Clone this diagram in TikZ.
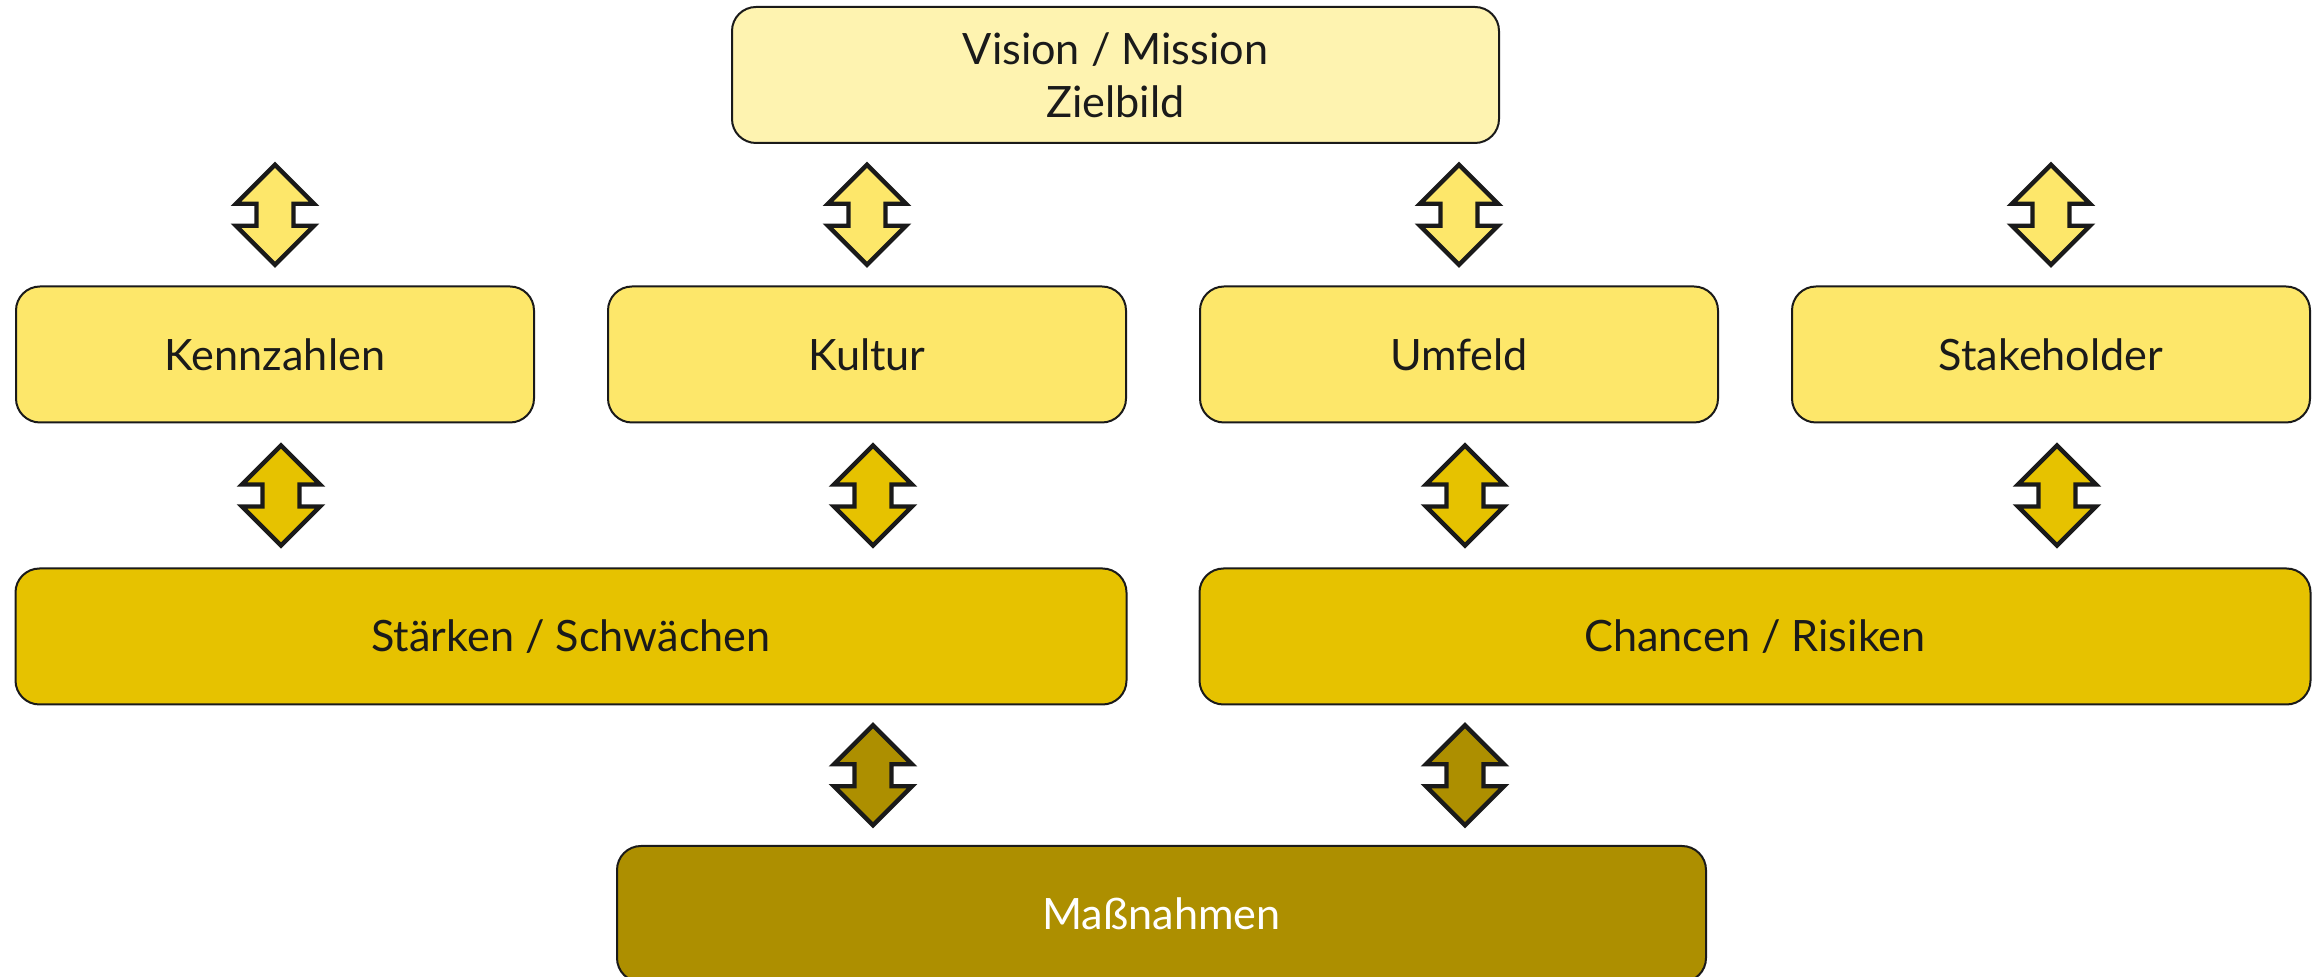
\documentclass[tikz,border=0pt]{standalone}
\usepackage{fontspec}
\setmainfont{Lato}
\usetikzlibrary{positioning,calc}
\definecolor{zielhell}{HTML}{FEF3B0}
\definecolor{gelb}{HTML}{FDE76A}
\definecolor{ocker}{HTML}{E6C200}
\definecolor{oliv}{HTML}{AD8F00}
\definecolor{rand}{HTML}{1A1A1A}
\tikzset{
	feld/.style={draw=rand, line width=1pt, rounded corners=12pt, minimum height=68pt,
		align=center, text=rand, font=\fontsize{21.6}{26.5}\selectfont},
	updown/.pic={
		\filldraw[fill=#1, draw=rand, line width=2.2pt]
		(0,-50)--(39,-11)--(18.5,-11)--(18.5,11)--(39,11)--(0,50)
		--(-39,11)--(-18.5,11)--(-18.5,-11)--(-39,-11)--cycle;
	}
}
\begin{document}
\begin{tikzpicture}[x=0.5pt,y=-0.5pt]
		\clip (0,0) rectangle (2320,977);
		\node[feld, fill=zielhell, minimum width=383.5pt] (vision) at (1115.5,75) {Vision / Mission\\Zielbild};
		\node[feld, fill=gelb, minimum width=259pt] (kennzahlen) at (275,354.5) {Kennzahlen};
		\node[feld, fill=gelb, minimum width=259pt, right=36pt of kennzahlen] (kultur) {Kultur};
		\node[feld, fill=gelb, minimum width=259pt, right=36pt of kultur] (umfeld) {Umfeld};
		\node[feld, fill=gelb, minimum width=259pt, right=36pt of umfeld] (stakeholder) {Stakeholder};
		\node[feld, fill=ocker, minimum width=555.5pt, anchor=north] (staerken)
		at ($(kennzahlen.south west)!.5!(kultur.south east)+(0,144)$) {Stärken / Schwächen};
		\node[feld, fill=ocker, minimum width=555.5pt, anchor=north] (chancen)
		at ($(umfeld.south west)!.5!(stakeholder.south east)+(0,144)$) {Chancen / Risiken};
		\node[feld, fill=oliv, minimum width=544.5pt, text=white] (massnahmen) at (1161.5,914) {Maßnahmen};
		% Zielbild <-> Analysefelder
		\pic at ($(kennzahlen.north)!.5!(kennzahlen.north |- vision.south)$) {updown=gelb};
		\pic at ($(kultur.north)!.5!(kultur.north |- vision.south)$) {updown=gelb};
		\pic at ($(umfeld.north)!.5!(umfeld.north |- vision.south)$) {updown=gelb};
		\pic at ($(stakeholder.north)!.5!(stakeholder.north |- vision.south)$) {updown=gelb};
		% Analysefelder <-> SWOT
		\pic at ($(kennzahlen.south)!.5!(kennzahlen.south |- staerken.north)+(6,0)$) {updown=ocker};
		\pic at ($(kultur.south)!.5!(kultur.south |- staerken.north)+(6,0)$) {updown=ocker};
		\pic at ($(umfeld.south)!.5!(umfeld.south |- chancen.north)+(6,0)$) {updown=ocker};
		\pic at ($(stakeholder.south)!.5!(stakeholder.south |- chancen.north)+(6,0)$) {updown=ocker};
		% SWOT <-> Massnahmen
		\pic at ($(kultur.south |- staerken.south)!.5!(kultur.south |- massnahmen.north)+(6,0)$) {updown=oliv};
		\pic at ($(umfeld.south |- chancen.south)!.5!(umfeld.south |- massnahmen.north)+(6,0)$) {updown=oliv};
\end{tikzpicture}
\end{document}
